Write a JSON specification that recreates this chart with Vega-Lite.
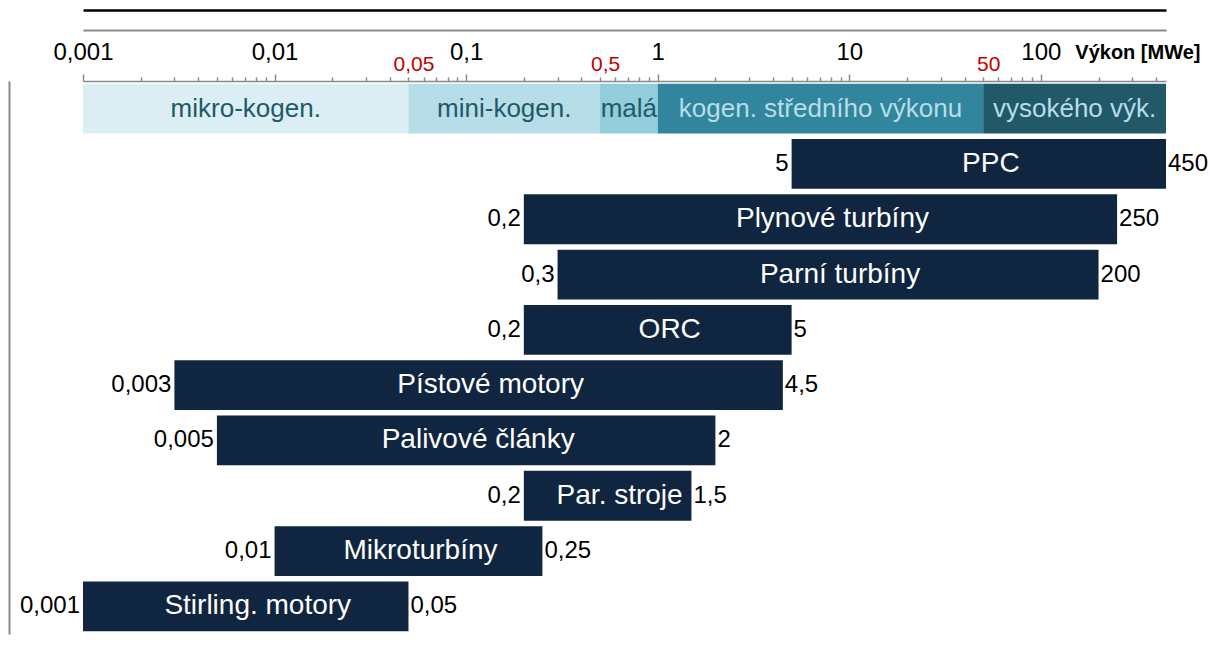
{
  "$schema": "https://vega.github.io/schema/vega-lite/v6.json",
  "width": 1083,
  "height": 553,
  "autosize": "none",
  "padding": {"left": 83, "top": 81, "right": 44, "bottom": 12},
  "background": "white",
  "datasets": {
    "bands": [
      {"row": "kategorie", "name": "mikro-kogen.", "from": 0.001, "to": 0.05},
      {"row": "kategorie", "name": "mini-kogen.", "from": 0.05, "to": 0.5},
      {"row": "kategorie", "name": "malá", "from": 0.5, "to": 1},
      {"row": "kategorie", "name": "kogen. středního výkonu", "from": 1, "to": 50},
      {"row": "kategorie", "name": "vysokého výk.", "from": 50, "to": 450}
    ],
    "tech": [
      {"row": "PPC", "from": 5, "to": 450},
      {"row": "Plynové turbíny", "from": 0.2, "to": 250},
      {"row": "Parní turbíny", "from": 0.3, "to": 200},
      {"row": "ORC", "from": 0.2, "to": 5},
      {"row": "Pístové motory", "from": 0.003, "to": 4.5},
      {"row": "Palivové články", "from": 0.005, "to": 2},
      {"row": "Par. stroje", "from": 0.2, "to": 1.5},
      {"row": "Mikroturbíny", "from": 0.01, "to": 0.25},
      {"row": "Stirling. motory", "from": 0.001, "to": 0.05}
    ]
  },
  "resolve": {"axis": {"x": "independent"}},
  "layer": [
    {
      "data": {"name": "bands"},
      "mark": {"type": "bar"},
      "encoding": {
        "x": {
          "field": "from", "type": "quantitative",
          "scale": {"type": "log", "domain": [0.001, 450], "nice": false},
          "axis": {
            "orient": "top",
            "values": [0.001,0.002,0.003,0.004,0.005,0.006,0.007,0.008,0.009,0.01,0.02,0.03,0.04,0.05,0.06,0.07,0.08,0.09,0.1,0.2,0.3,0.4,0.5,0.6,0.7,0.8,0.9,1,2,3,4,5,6,7,8,9,10,20,30,40,50,60,70,80,90,100,200,300,400],
            "format": "~g",
            "labelExpr": "indexof([0.001,0.01,0.1,1,10,100,0.05,0.5,50], datum.value) >= 0 ? datum.label : ''",
            "labelOverlap": false,
            "labelFlush": false,
            "labelBound": false,
            "labelFont": "Liberation Sans",
            "labelBaseline": "alphabetic",
            "labelFontSize": {"condition": {"test": "datum.value == 0.05 || datum.value == 0.5 || datum.value == 50", "value": 21}, "value": 24},
            "labelColor": {"condition": {"test": "datum.value == 0.05 || datum.value == 0.5 || datum.value == 50", "value": "#C00000"}, "value": "#000000"},
            "labelPadding": {"condition": {"test": "datum.value == 0.05 || datum.value == 0.5 || datum.value == 50", "value": 7}, "value": 15},
            "labelOffset": {"condition": {"test": "datum.value == 0.05 || datum.value == 0.5 || datum.value == 50", "value": 5}, "value": 0},
            "tickSize": {"condition": {"test": "indexof([0.001,0.01,0.1,1,10,100], datum.value) >= 0", "value": 7}, "value": 4},
            "tickColor": "#898989",
            "tickWidth": 1.5,
            "domainColor": "#898989",
            "domainWidth": 1.5,
            "grid": false,
            "title": "Výkon [MWe]",
            "titleFont": "Liberation Sans",
            "titleFontWeight": "bold",
            "titleFontSize": 20,
            "titleColor": "#000000",
            "titleAlign": "right",
            "titleBaseline": "alphabetic",
            "titleAngle": 0,
            "titleX": 1117,
            "titleY": -23
          }
        },
        "x2": {"field": "to"},
        "y": {"field": "row", "type": "nominal", "scale": {"domain": ["kategorie","PPC","Plynové turbíny","Parní turbíny","ORC","Pístové motory","Palivové články","Par. stroje","Mikroturbíny","Stirling. motory"], "paddingInner": 0.1, "paddingOuter": 0.05}},
        "color": {
          "field": "name", "type": "nominal",
          "scale": {"domain": ["mikro-kogen.","mini-kogen.","malá","kogen. středního výkonu","vysokého výk."], "range": ["#DAEEF3","#B7DEE8","#92CDDC","#31859C","#215968"]},
          "legend": null
        }
      }
    },
    {
      "data": {"name": "bands"},
      "transform": [{"calculate": "sqrt(datum.from * datum.to)", "as": "mid"}],
      "mark": {"type": "text", "font": "Liberation Sans", "fontSize": 26, "baseline": "middle", "align": "center"},
      "encoding": {
        "x": {"field": "mid", "type": "quantitative", "axis": null},
        "y": {"field": "row", "type": "nominal"},
        "text": {"field": "name"},
        "color": {"condition": {"test": "datum.from >= 1", "value": "#B7DEE8"}, "value": "#215968"}
      }
    },
    {
      "data": {"name": "tech"},
      "mark": {"type": "bar", "color": "#10253F"},
      "encoding": {
        "x": {"field": "from", "type": "quantitative", "axis": {"orient": "top", "offset": 71, "domain": true, "domainColor": "#000000", "domainWidth": 2.5, "ticks": false, "labels": false, "grid": false, "title": null}},
        "x2": {"field": "to"},
        "y": {"field": "row", "type": "nominal"}
      }
    },
    {
      "data": {"name": "tech"},
      "transform": [{"calculate": "sqrt(datum.from * datum.to)", "as": "mid"}],
      "mark": {"type": "text", "font": "Liberation Sans", "fontSize": 28, "baseline": "middle", "align": "center", "color": "#FFFFFF", "dx": 12},
      "encoding": {
        "x": {"field": "mid", "type": "quantitative", "axis": {"orient": "top", "offset": 51, "domain": true, "domainColor": "#898989", "domainWidth": 2, "ticks": false, "labels": false, "grid": false, "title": null}},
        "y": {"field": "row", "type": "nominal"},
        "text": {"field": "row"}
      }
    },
    {
      "data": {"name": "tech"},
      "mark": {"type": "text", "font": "Liberation Sans", "fontSize": 24, "baseline": "middle", "align": "right", "color": "#000000", "dx": -3},
      "encoding": {
        "x": {"field": "from", "type": "quantitative", "axis": null},
        "y": {"field": "row", "type": "nominal"},
        "text": {"field": "from", "type": "quantitative", "format": "~g"}
      }
    },
    {
      "data": {"name": "tech"},
      "mark": {"type": "text", "font": "Liberation Sans", "fontSize": 24, "baseline": "middle", "align": "left", "color": "#000000", "dx": 2},
      "encoding": {
        "x": {"field": "to", "type": "quantitative", "axis": null},
        "y": {"field": "row", "type": "nominal"},
        "text": {"field": "to", "type": "quantitative", "format": "~g"}
      }
    }
  ],
  "config": {
    "locale": {"number": {"decimal": ",", "thousands": " ", "grouping": [3], "currency": ["", " Kč"]}},
    "view": {"stroke": null},
    "axisY": {"labels": false, "ticks": false, "domain": true, "domainColor": "#898989", "domainWidth": 2, "offset": 74, "title": null, "grid": false}
  }
}
